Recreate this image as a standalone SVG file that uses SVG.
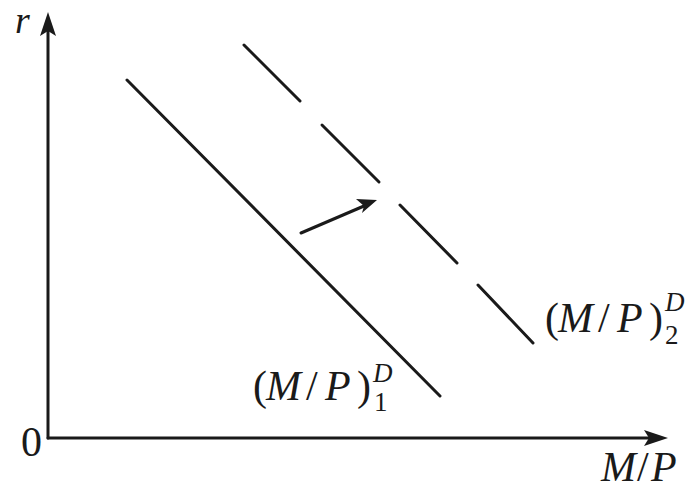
<svg xmlns="http://www.w3.org/2000/svg" width="685" height="492" viewBox="0 0 685 492">
<style>
.ln{stroke:#1a1a1a;stroke-width:3;fill:none;stroke-linecap:round}
.t{font-family:"Liberation Serif","DejaVu Serif",serif;fill:#1a1a1a}
.i{font-style:italic}
</style>
<rect width="685" height="492" fill="#fff"/>
<g id="axes">
<line class="ln" x1="48" y1="438" x2="48" y2="30" stroke-linecap="butt"/>
<polygon points="48,12 40,36 48,31 56,36" fill="#1a1a1a"/>
<line class="ln" x1="48" y1="438" x2="650" y2="438" stroke-linecap="butt"/>
<polygon points="668,438 644,430 649,438 644,446" fill="#1a1a1a"/>
</g>
<g id="connectors">
<line id="md1" class="ln" x1="127" y1="80" x2="440" y2="396"/>
<g id="md2">
<line class="ln" x1="244" y1="45" x2="300" y2="101"/>
<line class="ln" x1="322" y1="125" x2="379" y2="182"/>
<line class="ln" x1="400" y1="205" x2="457" y2="263"/>
<line class="ln" x1="478" y1="285" x2="533" y2="343"/>
</g>
<line class="ln" x1="301" y1="233" x2="364" y2="206" stroke-width="2.5"/>
<polygon points="377,200 356,199 364,206 362,213" fill="#1a1a1a"/>
</g>
<g id="labels">
<text class="t i" x="15" y="33" font-size="38">r</text>
<text class="t" x="21" y="456" font-size="42">0</text>
<text class="t" y="481" font-size="42"><tspan class="i" x="601">M</tspan><tspan x="637">/</tspan><tspan class="i" x="651">P</tspan></text>
<g id="label1">
<text class="t" y="400" font-size="42"><tspan x="253">(</tspan><tspan class="i" x="266">M</tspan><tspan x="306">/</tspan><tspan class="i" x="325">P</tspan><tspan x="357">)</tspan></text>
<text class="t i" x="373" y="382" font-size="27">D</text>
<text class="t" x="374" y="411" font-size="27">1</text>
</g>
<g id="label2">
<text class="t" y="332" font-size="42"><tspan x="545">(</tspan><tspan class="i" x="558">M</tspan><tspan x="598">/</tspan><tspan class="i" x="617">P</tspan><tspan x="649">)</tspan></text>
<text class="t i" x="665" y="311" font-size="27">D</text>
<text class="t" x="665" y="344" font-size="27">2</text>
</g>
</g>
</svg>
